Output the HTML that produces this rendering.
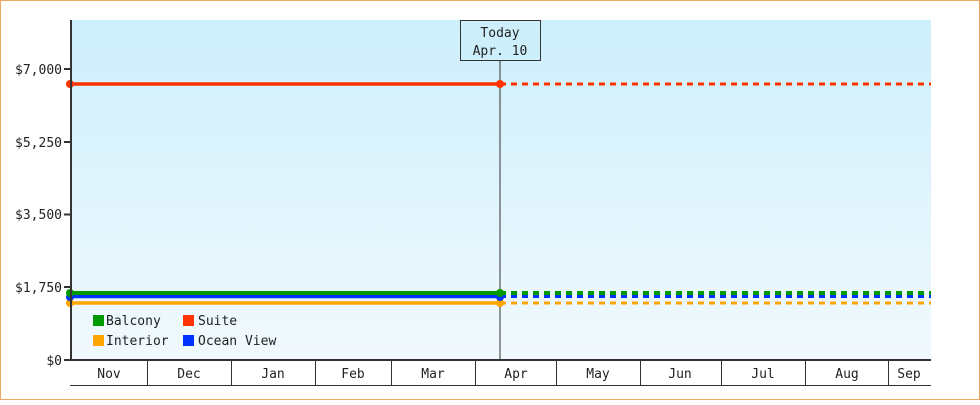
<!DOCTYPE html>
<html><head><style>
body{margin:0;background:#fff}
svg text{font-family:"DejaVu Sans Mono","Liberation Mono",monospace;font-size:13px;fill:#222}
</style></head><body>
<svg width="980" height="400" viewBox="0 0 980 400" xmlns="http://www.w3.org/2000/svg">
<defs><linearGradient id="g" x1="0" y1="0" x2="0" y2="1"><stop offset="0" stop-color="#cdeffc"/><stop offset="1" stop-color="#f1f9fd"/></linearGradient></defs>
<rect x="0.5" y="0.5" width="979" height="399" fill="#fff" stroke="#f0a860"/>
<rect x="70" y="20" width="861" height="340" fill="url(#g)"/>
<g stroke="#333" stroke-width="1">
<line x1="500" y1="60" x2="500" y2="360"/>
</g>
<g stroke-width="3.5" fill="none">
<line x1="70" y1="84" x2="500" y2="84" stroke="#ff3300"/>
<line x1="500" y1="84" x2="931" y2="84" stroke="#ff3300" stroke-dasharray="6,5" stroke-width="3"/>
<line x1="70" y1="303" x2="500" y2="303" stroke="#ffa500"/>
<line x1="500" y1="303" x2="931" y2="303" stroke="#ffa500" stroke-dasharray="6,5" stroke-width="3"/>
<line x1="70" y1="296.5" x2="500" y2="296.5" stroke="#0033ff"/>
<line x1="500" y1="296.5" x2="931" y2="296.5" stroke="#0033ff" stroke-dasharray="6,5" stroke-width="3"/>
<line x1="70" y1="293" x2="500" y2="293" stroke="#009900" stroke-width="4"/>
<line x1="500" y1="293" x2="931" y2="293" stroke="#009900" stroke-dasharray="6,5" stroke-width="4"/>
</g>
<g>
<circle cx="70" cy="84" r="4" fill="#ff3300"/><circle cx="500" cy="84" r="4" fill="#ff3300"/>
<circle cx="70" cy="303" r="4" fill="#ffa500"/><circle cx="500" cy="303" r="4" fill="#ffa500"/>
<circle cx="70" cy="297" r="4" fill="#0033ff"/><circle cx="500" cy="297" r="4" fill="#0033ff"/>
<circle cx="70" cy="293" r="4" fill="#009900"/><circle cx="500" cy="293" r="4" fill="#009900"/>
</g>
<rect x="460.5" y="20.5" width="80" height="40" fill="#cdeffc" stroke="#333"/>
<text x="500" y="37" text-anchor="middle">Today</text>
<text x="500" y="55" text-anchor="middle">Apr. 10</text>
<g stroke="#333" stroke-width="2">
<line x1="71" y1="20" x2="71" y2="361"/>
<line x1="64" y1="69" x2="71" y2="69"/><line x1="64" y1="142" x2="71" y2="142"/>
<line x1="64" y1="214.5" x2="71" y2="214.5"/><line x1="64" y1="287" x2="71" y2="287"/>
<line x1="64" y1="360" x2="71" y2="360"/>
<line x1="70" y1="360" x2="931" y2="360"/>
</g>
<g stroke="#333" stroke-width="1">
<line x1="70" y1="385.5" x2="931" y2="385.5"/>
<line x1="147.5" y1="360" x2="147.5" y2="385"/><line x1="231.5" y1="360" x2="231.5" y2="385"/>
<line x1="315.5" y1="360" x2="315.5" y2="385"/><line x1="391.5" y1="360" x2="391.5" y2="385"/>
<line x1="475.5" y1="360" x2="475.5" y2="385"/><line x1="556.5" y1="360" x2="556.5" y2="385"/>
<line x1="640.5" y1="360" x2="640.5" y2="385"/><line x1="721.5" y1="360" x2="721.5" y2="385"/>
<line x1="805.5" y1="360" x2="805.5" y2="385"/><line x1="888.5" y1="360" x2="888.5" y2="385"/>
</g>
<g text-anchor="end">
<text x="62" y="74">$7,000</text><text x="62" y="147">$5,250</text>
<text x="62" y="219">$3,500</text><text x="62" y="292">$1,750</text><text x="62" y="365">$0</text>
</g>
<g text-anchor="middle">
<text x="109" y="378">Nov</text><text x="189" y="378">Dec</text><text x="273" y="378">Jan</text>
<text x="353" y="378">Feb</text><text x="433" y="378">Mar</text><text x="516" y="378">Apr</text>
<text x="598" y="378">May</text><text x="680" y="378">Jun</text><text x="763" y="378">Jul</text>
<text x="847" y="378">Aug</text><text x="909" y="378">Sep</text>
</g>
<rect x="93" y="315" width="11" height="11" fill="#009900"/><text x="106" y="325">Balcony</text>
<rect x="183" y="315" width="11" height="11" fill="#ff3300"/><text x="198" y="325">Suite</text>
<rect x="93" y="335" width="11" height="11" fill="#ffa500"/><text x="106" y="345">Interior</text>
<rect x="183" y="335" width="11" height="11" fill="#0033ff"/><text x="198" y="345">Ocean View</text>
</svg>
</body></html>
